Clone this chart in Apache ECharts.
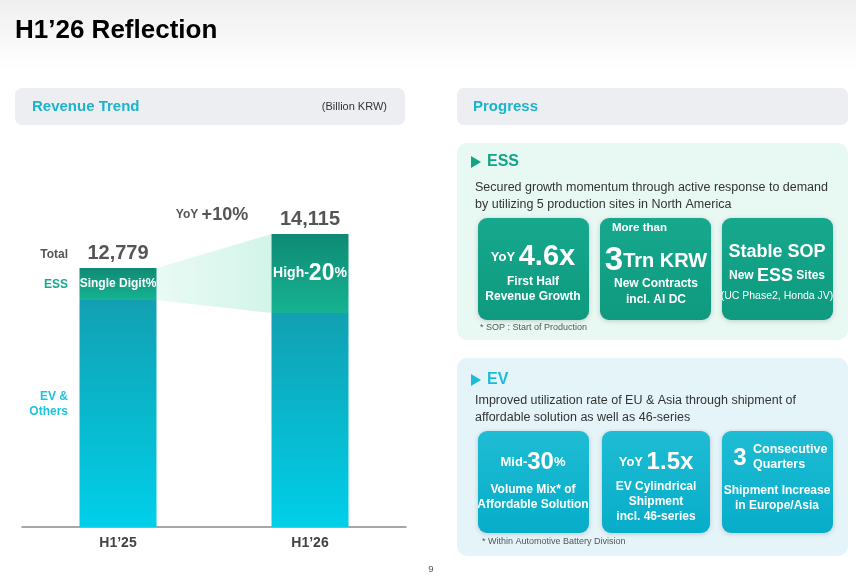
<!DOCTYPE html>
<html>
<head>
<meta charset="utf-8">
<script src="https://cdn.jsdelivr.net/npm/echarts@6/dist/echarts.min.js"></script>
<style>
  html, body { margin: 0; padding: 0; background: #fff; }
  #chart1 { width: 856px; height: 576px; }
</style>
</head>
<body>
<div id="chart1"></div>
<script>
var categories = ['H1’25', 'H1’26'];
var evValues = [11520, 11010];
var essValues = [1259, 3105];
var totals = [12779, 14115];
var essLabels = ['Single Digit%', 'High-20%'];
var yoyText = '+10%';

var FONT = '"Liberation Sans", Arial, sans-serif';
var dom = document.getElementById('chart1');
var myChart = echarts.init(dom);

var barW = 77;

option = {
    animation: false,
    backgroundColor: '#fff',
    grid: { left: 22, right: 450, top: 200, bottom: 49 },
    xAxis: [
        {
            type: 'category',
            data: categories,
            axisLine: { lineStyle: { color: '#8a8a8a', width: 1.5 } },
            axisTick: { show: false },
            axisLabel: { color: '#444', fontSize: 14, fontWeight: 'bold', fontFamily: FONT, margin: 9 }
        }
    ],
    yAxis: [
        { type: 'value', min: 2600, max: 15450, show: false, splitLine: { show: false } }
    ],
    series: [
        {
            name: 'EV & Others',
            type: 'bar',
            stack: 'rev',
            barWidth: barW,
            data: evValues,
            itemStyle: {
                color: new echarts.graphic.LinearGradient(0, 0, 0, 1, [
                    { offset: 0, color: '#12a0b2' },
                    { offset: 1, color: '#00cfe9' }
                ])
            }
        },
        {
            name: 'ESS',
            type: 'bar',
            stack: 'rev',
            barWidth: barW,
            data: essValues,
            itemStyle: {
                color: new echarts.graphic.LinearGradient(0, 0, 0, 1, [
                    { offset: 0, color: '#0f8a74' },
                    { offset: 1, color: '#16b393' }
                ])
            },
            label: {
                show: true,
                position: 'inside',
                color: '#fff',
                fontFamily: FONT,
                fontWeight: 'bold',
                formatter: function (p) {
                    if (p.dataIndex === 0) return '{s|' + essLabels[0] + '}';
                    return '{m|High-}{b|20}{m|%}';
                },
                rich: {
                    s: { fontSize: 12, fontWeight: 'bold', color: '#fff', fontFamily: FONT },
                    m: { fontSize: 14, fontWeight: 'bold', color: '#fff', fontFamily: FONT },
                    b: { fontSize: 23, fontWeight: 'bold', color: '#fff', fontFamily: FONT }
                }
            }
        }
    ]
};

myChart.setOption(option, true);

// pixel positions from the scales
function px(i, v) { return myChart.convertToPixel({ xAxisIndex: 0, yAxisIndex: 0 }, [i, v]); }
var t0 = px(0, totals[0]), t1 = px(1, totals[1]);
var b0 = px(0, evValues[0]), b1 = px(1, evValues[1]);
var r0 = t0[0] + barW / 2, l1 = t1[0] - barW / 2;

function txt(x, y, text, size, color, opt) {
    opt = opt || {};
    return {
        type: 'text', z: opt.z || 10,
        style: {
            x: x, y: y, text: text,
            font: (opt.weight || 'bold') + ' ' + size + 'px ' + FONT,
            fill: color, align: opt.align || 'left', verticalAlign: 'middle'
        }
    };
}
function rtxt(x, y, text, rich, align, color) {
    return {
        type: 'text', z: 10,
        style: { x: x, y: y, text: text, rich: rich, align: align || 'center', verticalAlign: 'middle', fill: color || '#fff', font: 'bold 12px ' + FONT }
    };
}
function rs(size, color, weight) {
    return { fontSize: size, fontWeight: weight || 'bold', fill: color || '#fff', fontFamily: FONT };
}
function panel(x, y, w, h, fill, r) {
    return { type: 'rect', z: 1, shape: { x: x, y: y, width: w, height: h, r: r || 8 }, style: { fill: fill } };
}
function tile(x, y, w, h, c1, c2) {
    return {
        type: 'rect', z: 5, shape: { x: x, y: y, width: w, height: h, r: 9 },
        style: {
            fill: new echarts.graphic.LinearGradient(0, 0, 0, 1, [{ offset: 0, color: c1 }, { offset: 1, color: c2 }]),
            shadowBlur: 5, shadowColor: 'rgba(0,0,0,0.18)', shadowOffsetY: 1
        }
    };
}
function tri(x, y, color) {
    return { type: 'polygon', z: 10, shape: { points: [[x, y - 6], [x + 10, y], [x, y + 6]] }, style: { fill: color } };
}

var g1 = ['#16a88d', '#0e9a7f'];
var g2 = ['#1fbcd4', '#06adc9'];

var graphic = [
    // top title band
    { type: 'rect', z: 0, shape: { x: 0, y: 0, width: 856, height: 70 },
      style: { fill: new echarts.graphic.LinearGradient(0, 0, 0, 1, [{ offset: 0, color: '#efefef' }, { offset: 1, color: '#ffffff' }]) } },
    txt(15, 31, 'H1’26 Reflection', 26, '#000'),
    txt(431, 569, '9', 9.5, '#555', { weight: 'normal', align: 'center' }),

    // left header
    panel(15, 88, 390, 37, '#eceef1', 7),
    txt(32, 107, 'Revenue Trend', 15, '#1ab4cb'),
    txt(387, 107, '(Billion KRW)', 11, '#333', { weight: 'normal', align: 'right' }),

    // wedge
    { type: 'polygon', z: 0,
      shape: { points: [[r0, t0[1]], [l1, t1[1]], [l1, b1[1]], [r0, b0[1]]] },
      style: { fill: new echarts.graphic.LinearGradient(0, 0, 1, 0, [
          { offset: 0, color: 'rgba(215,246,236,0.55)' }, { offset: 1, color: '#d2f4e9' }]) } },

    // chart annotations
    txt(68, 255, 'Total', 12, '#555', { align: 'right' }),
    txt(68, 285, 'ESS', 12, '#17a98c', { align: 'right' }),
    txt(68, 397, 'EV &', 12, '#1ec2de', { align: 'right' }),
    txt(68, 412, 'Others', 12, '#1ec2de', { align: 'right' }),
    txt(t0[0], t0[1] - 14, echarts.format.addCommas(totals[0]), 20, '#555', { align: 'center' }),
    txt(t1[0], t1[1] - 14, echarts.format.addCommas(totals[1]), 20, '#555', { align: 'center' }),
    rtxt(212, 215, '{a|YoY }{b|' + yoyText + '}', { a: rs(12, '#555'), b: rs(18, '#555') }, 'center', '#555'),

    // right header
    panel(457, 88, 391, 37, '#eceef1', 7),
    txt(473, 107, 'Progress', 15, '#1ab4cb'),

    // ESS box
    panel(457, 143, 391, 197, '#e8f8f3', 10),
    tri(471, 162, '#13a487'),
    txt(487, 162, 'ESS', 16, '#13a487'),
    txt(475, 188, 'Secured growth momentum through active response to demand', 12.5, '#333', { weight: 'normal' }),
    txt(475, 205, 'by utilizing 5 production sites in North America', 12.5, '#333', { weight: 'normal' }),
    tile(478, 218, 111, 102, g1[0], g1[1]),
    tile(600, 218, 111, 102, g1[0], g1[1]),
    tile(722, 218, 111, 102, g1[0], g1[1]),
    rtxt(533, 257, '{a|YoY }{b|4.6x}', { a: rs(13), b: rs(29) }),
    txt(533, 282, 'First Half', 12, '#fff', { align: 'center' }),
    txt(533, 297, 'Revenue Growth', 12, '#fff', { align: 'center' }),
    txt(612, 228, 'More than', 11.5, '#fff'),
    rtxt(656, 261, '{b|3}{a|Trn KRW}', { a: rs(20), b: rs(33) }),
    txt(656, 284, 'New Contracts', 12, '#fff', { align: 'center' }),
    txt(656, 300, 'incl. AI DC', 12, '#fff', { align: 'center' }),
    txt(777, 252, 'Stable SOP', 18, '#fff', { align: 'center' }),
    rtxt(777, 276, '{a|New }{b|ESS}{a| Sites}', { a: rs(12), b: rs(18) }),
    txt(777, 296, '(UC Phase2, Honda JV)', 10.5, '#fff', { align: 'center', weight: 'normal' }),
    txt(480, 328, '* SOP : Start of Production', 9, '#555', { weight: 'normal' }),

    // EV box
    panel(457, 358, 391, 198, '#e4f4f9', 10),
    tri(471, 380, '#1cbcd8'),
    txt(487, 380, 'EV', 16, '#1cbcd8'),
    txt(475, 401, 'Improved utilization rate of EU & Asia through shipment of', 12.5, '#333', { weight: 'normal' }),
    txt(475, 418, 'affordable solution as well as 46-series', 12.5, '#333', { weight: 'normal' }),
    tile(478, 431, 111, 102, g2[0], g2[1]),
    tile(602, 431, 108, 102, g2[0], g2[1]),
    tile(722, 431, 111, 102, g2[0], g2[1]),
    rtxt(533, 462, '{a|Mid-}{b|30}{a|%}', { a: rs(13), b: rs(24) }),
    txt(533, 490, 'Volume Mix* of', 12, '#fff', { align: 'center' }),
    txt(533, 505, 'Affordable Solution', 12, '#fff', { align: 'center' }),
    rtxt(656, 462, '{a|YoY }{b|1.5x}', { a: rs(13), b: rs(24) }),
    txt(656, 487, 'EV Cylindrical', 12, '#fff', { align: 'center' }),
    txt(656, 502, 'Shipment', 12, '#fff', { align: 'center' }),
    txt(656, 517, 'incl. 46-series', 12, '#fff', { align: 'center' }),
    txt(740, 458, '3', 24, '#fff', { align: 'center' }),
    txt(753, 450, 'Consecutive', 12.5, '#fff'),
    txt(753, 465, 'Quarters', 12.5, '#fff'),
    txt(777, 491, 'Shipment Increase', 12, '#fff', { align: 'center' }),
    txt(777, 506, 'in Europe/Asia', 12, '#fff', { align: 'center' }),
    txt(482, 542, '* Within Automotive Battery Division', 9, '#555', { weight: 'normal' })
];

myChart.setOption({ graphic: graphic });
</script>
</body>
</html>
